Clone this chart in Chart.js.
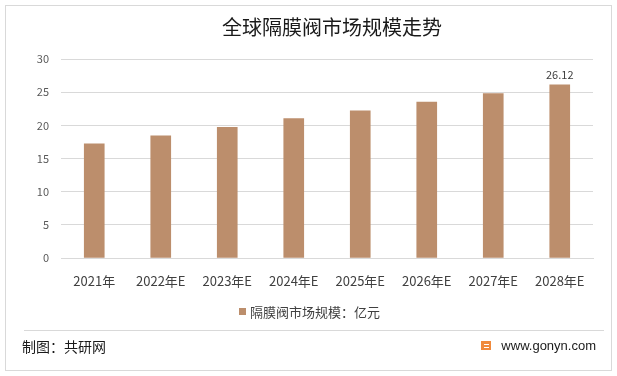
<!DOCTYPE html>
<html>
<head>
<meta charset="utf-8">
<script src="https://cdn.jsdelivr.net/npm/chart.js@4/dist/chart.umd.min.js"></script>
<style>
  html, body { margin: 0; padding: 0; background: #fff; }
  #wrap { width: 617px; height: 376px; }
</style>
</head>
<body>
<div id="wrap"><canvas id="marketChart" width="617" height="376"></canvas></div>
<script>
// data
var years = ['2021年', '2022年E', '2023年E', '2024年E', '2025年E', '2026年E', '2027年E', '2028年E'];
var marketSize = [17.2, 18.4, 19.7, 21.0, 22.2, 23.5, 24.8, 26.12];
var yTicks = [0, 5, 10, 15, 20, 25, 30];

var titleText = '全球隔膜阀市场规模走势';
var seriesName = '隔膜阀市场规模：亿元';
var barColor = '#BC8E6C';
var cjk = '"Noto Sans CJK SC", "Microsoft YaHei", sans-serif';

// frame, title, legend, footer + label on last bar
var decoPlugin = {
    id: 'deco',
    afterDraw: function (chart) {
        var ctx = chart.ctx;
        ctx.save();

        // outer border
        ctx.strokeStyle = '#d9d9d9';
        ctx.lineWidth = 1;
        ctx.strokeRect(5.5, 5.5, 606, 365);

        // title
        ctx.fillStyle = '#1a1a1a';
        ctx.font = '20px ' + cjk;
        ctx.textAlign = 'center';
        ctx.textBaseline = 'middle';
        ctx.fillText(titleText, 332, 27);

        // value label, only on the last bar
        var meta = chart.getDatasetMeta(0);
        var last = meta.data[meta.data.length - 1];
        ctx.fillStyle = '#404040';
        ctx.font = '11px ' + cjk;
        ctx.textBaseline = 'bottom';
        ctx.fillText(marketSize[marketSize.length - 1].toFixed(2), last.x, last.y - 4);

        // legend
        var ds = chart.data.datasets[0];
        ctx.fillStyle = ds.backgroundColor;
        ctx.fillRect(239, 308, 7, 7);
        ctx.fillStyle = '#404040';
        ctx.font = '13px ' + cjk;
        ctx.textAlign = 'left';
        ctx.textBaseline = 'middle';
        ctx.fillText(ds.label, 250, 312);

        // footer
        ctx.strokeStyle = '#d9d9d9';
        ctx.beginPath();
        ctx.moveTo(24, 330.5);
        ctx.lineTo(604, 330.5);
        ctx.stroke();

        ctx.fillStyle = '#1a1a1a';
        ctx.font = '14px ' + cjk;
        ctx.fillText('制图：共研网', 22, 347);

        // little logo
        ctx.fillStyle = '#F08A3C';
        ctx.fillRect(481, 341, 10, 9);
        ctx.fillStyle = '#fff';
        ctx.fillRect(484, 344, 5, 1);
        ctx.fillRect(484, 347, 5, 1);

        ctx.fillStyle = '#1a1a1a';
        ctx.font = '13px "Liberation Sans", Arial, sans-serif';
        ctx.textAlign = 'right';
        ctx.fillText('www.gonyn.com', 596, 346);

        ctx.restore();
    }
};

var ctx = document.getElementById('marketChart').getContext('2d');
new Chart(ctx, {
    type: 'bar',
    data: {
        labels: years,
        datasets: [{
            label: seriesName,
            data: marketSize,
            backgroundColor: barColor,
            barThickness: 20
        }]
    },
    options: {
        responsive: false,
        animation: false,
        devicePixelRatio: 1,
        layout: {
            padding: { left: 0, right: 24, top: 59, bottom: 88 }
        },
        plugins: {
            legend: { display: false },
            title: { display: false },
            tooltip: { enabled: false }
        },
        scales: {
            x: {
                grid: { display: false, drawTicks: false },
                border: { color: '#d9d9d9' },
                ticks: {
                    color: '#404040',
                    font: { size: 13, family: cjk },
                    padding: 15,
                    maxRotation: 0
                },
                afterFit: function (scale) { scale.height = 30; }
            },
            y: {
                min: 0,
                max: 30,
                grid: { color: '#d9d9d9', drawTicks: false },
                border: { display: false },
                afterBuildTicks: function (scale) {
                    scale.ticks = yTicks.map(function (v) { return { value: v }; });
                },
                ticks: {
                    color: '#595959',
                    font: { size: 11, family: cjk },
                    padding: 12
                },
                afterFit: function (scale) { scale.width = 61; }
            }
        }
    },
    plugins: [decoPlugin]
});
</script>
</body>
</html>
